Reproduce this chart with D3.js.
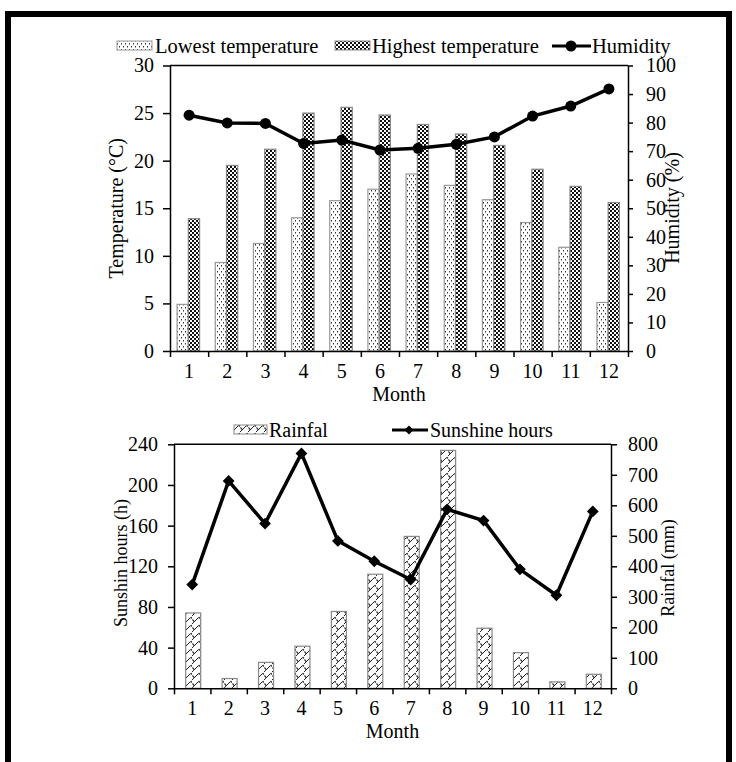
<!DOCTYPE html>
<html>
<head>
<meta charset="utf-8">
<script src="https://cdn.jsdelivr.net/npm/d3@7"></script>
<style>
  html, body { margin: 0; padding: 0; background: #fff; }
  svg { display: block; font-family: "Liberation Serif", "Times New Roman", serif; }
  .axis path, .axis line { stroke: #000; stroke-width: 1.5; }
  .axis text { font-size: 20px; fill: #000; font-family: "Liberation Serif", serif; }
</style>
</head>
<body>
<div id="chart"></div>
<script>
const months = ['1', '2', '3', '4', '5', '6', '7', '8', '9', '10', '11', '12'];
const lowTemp = [4.9, 9.3, 11.3, 14.0, 15.8, 17.0, 18.6, 17.4, 15.9, 13.5, 10.9, 5.1];
const highTemp = [13.9, 19.5, 21.2, 25.0, 25.6, 24.8, 23.8, 22.8, 21.6, 19.1, 17.3, 15.6];
const humidity = [82.6, 79.9, 79.7, 72.7, 73.9, 70.4, 71.0, 72.4, 75.0, 82.3, 85.8, 91.8];
const rainfall = [247, 32, 85, 138, 252, 374, 498, 780, 197, 117, 21, 46];
const sunshine = [102, 204, 162, 231, 145, 125, 107, 176, 165, 117, 91.5, 174];

const tempTicks = [0, 5, 10, 15, 20, 25, 30];
const humTicks = [0, 10, 20, 30, 40, 50, 60, 70, 80, 90, 100];
const sunTicks = [0, 40, 80, 120, 160, 200, 240];
const rainTicks = [0, 100, 200, 300, 400, 500, 600, 700, 800];

const W = 736, H = 762;
const svg = d3.select('#chart').append('svg').attr('width', W).attr('height', H);

// patterns
const defs = svg.append('defs');
const dots = defs.append('pattern').attr('id', 'dots')
  .attr('patternUnits', 'userSpaceOnUse').attr('width', 4).attr('height', 6);
dots.append('rect').attr('width', 4).attr('height', 6).attr('fill', '#fff');
dots.append('rect').attr('x', 1).attr('y', 1).attr('width', 1).attr('height', 1.5).attr('fill', '#333');
dots.append('rect').attr('x', 3).attr('y', 4).attr('width', 1).attr('height', 1.5).attr('fill', '#333');

const checker = defs.append('pattern').attr('id', 'checker')
  .attr('patternUnits', 'userSpaceOnUse').attr('width', 4).attr('height', 4);
checker.append('rect').attr('width', 4).attr('height', 4).attr('fill', '#fff');
checker.append('rect').attr('width', 2).attr('height', 2).attr('fill', '#111');
checker.append('rect').attr('x', 2).attr('y', 2).attr('width', 2).attr('height', 2).attr('fill', '#111');

const wave = defs.append('pattern').attr('id', 'wave')
  .attr('patternUnits', 'userSpaceOnUse').attr('width', 8).attr('height', 8);
wave.append('rect').attr('width', 8).attr('height', 8).attr('fill', '#fff');
wave.append('path').attr('d', 'M0,8 L6,2 Q8,0 8,3 M-2,2 L0,0 M0,4 Q2,3 2,6')
  .attr('stroke', '#222').attr('stroke-width', 1).attr('fill', 'none');

// outer frame
svg.append('path').attr('d', `M8,${H} V14 H729 V${H}`)
  .attr('fill', 'none').attr('stroke', '#000').attr('stroke-width', 6);

function xAxes(g, x, y0) {
  const edge = d3.scaleLinear().domain([0, months.length]).range(x.range());
  g.append('g').attr('class', 'axis').attr('transform', `translate(0,${y0})`)
    .call(d3.axisBottom(edge).tickValues(d3.range(months.length + 1)).tickFormat('').tickSize(6).tickSizeOuter(0));
  g.append('g').attr('class', 'axis').attr('transform', `translate(0,${y0})`)
    .call(d3.axisBottom(x).tickSize(0).tickPadding(13))
    .call(a => a.select('.domain').remove());
}

// ---------- top chart ----------
const t = { l: 170, r: 628, top: 65.5, bot: 351 };
const x1 = d3.scaleBand().domain(months).range([t.l, t.r]);
const xs = d3.scaleBand().domain(['low', 'high']).range([x1.bandwidth() / 2 - 12, x1.bandwidth() / 2 + 10.5]);
const yT = d3.scaleLinear().domain([0, 30]).range([t.bot, t.top]);
const yH = d3.scaleLinear().domain([0, 100]).range([t.bot, t.top]);
const topG = svg.append('g');

topG.selectAll('rect.low').data(lowTemp).join('rect').attr('class', 'low')
  .attr('x', (d, i) => x1(months[i]) + xs('low')).attr('width', xs.bandwidth())
  .attr('y', d => yT(d)).attr('height', d => yT(0) - yT(d))
  .attr('fill', 'url(#dots)').attr('stroke', '#999').attr('stroke-width', 1.2);
topG.selectAll('rect.high').data(highTemp).join('rect').attr('class', 'high')
  .attr('x', (d, i) => x1(months[i]) + xs('high')).attr('width', xs.bandwidth())
  .attr('y', d => yT(d)).attr('height', d => yT(0) - yT(d))
  .attr('fill', 'url(#checker)').attr('stroke', '#888').attr('stroke-width', 1.2);

topG.append('line').attr('x1', t.l).attr('x2', t.r).attr('y1', t.top).attr('y2', t.top)
  .attr('stroke', '#000').attr('stroke-width', 1.5);
xAxes(topG, x1, t.bot);
topG.append('g').attr('class', 'axis').attr('transform', `translate(${t.l},0)`)
  .call(d3.axisLeft(yT).tickValues(tempTicks).tickSize(7).tickPadding(9).tickSizeOuter(0));
topG.append('g').attr('class', 'axis').attr('transform', `translate(${t.r},0)`)
  .call(d3.axisRight(yH).tickValues(humTicks).tickSize(5).tickPadding(13).tickSizeOuter(0));

const humLine = d3.line().x((d, i) => x1(months[i]) + x1.bandwidth() / 2).y(d => yH(d));
topG.append('path').datum(humidity).attr('d', humLine)
  .attr('fill', 'none').attr('stroke', '#000').attr('stroke-width', 3.5);
topG.selectAll('circle').data(humidity).join('circle')
  .attr('cx', (d, i) => x1(months[i]) + x1.bandwidth() / 2).attr('cy', d => yH(d))
  .attr('r', 5.5).attr('fill', '#000');

topG.append('text').attr('transform', `translate(123,${(t.top + t.bot) / 2}) rotate(-90)`)
  .attr('text-anchor', 'middle').attr('font-size', 20).text('Temperature (°C)');
topG.append('text').attr('transform', `translate(679,208) rotate(-90)`)
  .attr('text-anchor', 'middle').attr('font-size', 20).text('Humidity (%)');
topG.append('text').attr('x', (t.l + t.r) / 2).attr('y', 401)
  .attr('text-anchor', 'middle').attr('font-size', 20).text('Month');

// top legend
const lg1 = topG.append('g').attr('font-size', 20.5);
lg1.append('rect').attr('x', 117).attr('y', 41).attr('width', 35).attr('height', 9)
  .attr('fill', 'url(#dots)').attr('stroke', '#999');
lg1.append('text').attr('x', 155).attr('y', 53).text('Lowest temperature');
lg1.append('rect').attr('x', 335).attr('y', 41).attr('width', 35).attr('height', 9)
  .attr('fill', 'url(#checker)').attr('stroke', '#888');
lg1.append('text').attr('x', 372).attr('y', 53).text('Highest temperature');
lg1.append('line').attr('x1', 552).attr('x2', 591).attr('y1', 46).attr('y2', 46)
  .attr('stroke', '#000').attr('stroke-width', 3);
lg1.append('circle').attr('cx', 571).attr('cy', 46).attr('r', 5.5).attr('fill', '#000');
lg1.append('text').attr('x', 592).attr('y', 53).text('Humidity');

// ---------- bottom chart ----------
const b = { l: 174, r: 611, top: 444.3, bot: 688.3 };
const x2 = d3.scaleBand().domain(months).range([b.l, b.r]);
const yS = d3.scaleLinear().domain([0, 240]).range([b.bot, b.top]);
const yR = d3.scaleLinear().domain([0, 800]).range([b.bot, b.top]);
const botG = svg.append('g');
const bw = 15;

botG.selectAll('rect.rain').data(rainfall).join('rect').attr('class', 'rain')
  .attr('x', (d, i) => x2(months[i]) + x2.bandwidth() / 2 - bw / 2 + 1).attr('width', bw)
  .attr('y', d => yR(d)).attr('height', d => yR(0) - yR(d))
  .attr('fill', 'url(#wave)').attr('stroke', '#888').attr('stroke-width', 1.2);

botG.append('line').attr('x1', b.l).attr('x2', b.r).attr('y1', b.top).attr('y2', b.top)
  .attr('stroke', '#000').attr('stroke-width', 1.5);
xAxes(botG, x2, b.bot);
botG.append('g').attr('class', 'axis').attr('transform', `translate(${b.l},0)`)
  .call(d3.axisLeft(yS).tickValues(sunTicks).tickSize(6).tickPadding(10).tickSizeOuter(0));
botG.append('g').attr('class', 'axis').attr('transform', `translate(${b.r},0)`)
  .call(d3.axisRight(yR).tickValues(rainTicks).tickSize(6).tickPadding(11).tickSizeOuter(0));

const sunLine = d3.line().x((d, i) => x2(months[i]) + x2.bandwidth() / 2).y(d => yS(d));
botG.append('path').datum(sunshine).attr('d', sunLine)
  .attr('fill', 'none').attr('stroke', '#000').attr('stroke-width', 3.5);
const diamond = d3.symbol(d3.symbolSquare, 70);
botG.selectAll('path.dm').data(sunshine).join('path').attr('class', 'dm')
  .attr('d', diamond)
  .attr('transform', (d, i) => `translate(${x2(months[i]) + x2.bandwidth() / 2},${yS(d)}) rotate(45)`)
  .attr('fill', '#000');

botG.append('text').attr('transform', `translate(127,563) rotate(-90)`)
  .attr('text-anchor', 'middle').attr('font-size', 18).text('Sunshin hours (h)');
botG.append('text').attr('transform', `translate(674,568) rotate(-90)`)
  .attr('text-anchor', 'middle').attr('font-size', 18).text('Rainfal (mm)');
botG.append('text').attr('x', (b.l + b.r) / 2).attr('y', 738)
  .attr('text-anchor', 'middle').attr('font-size', 20).text('Month');

// bottom legend
const lg2 = botG.append('g').attr('font-size', 20);
lg2.append('rect').attr('x', 234).attr('y', 425).attr('width', 33).attr('height', 9)
  .attr('fill', 'url(#wave)').attr('stroke', '#888');
lg2.append('text').attr('x', 269).attr('y', 437).text('Rainfal');
lg2.append('line').attr('x1', 392).attr('x2', 428).attr('y1', 430).attr('y2', 430)
  .attr('stroke', '#000').attr('stroke-width', 3);
lg2.append('path').attr('d', d3.symbol(d3.symbolSquare, 40))
  .attr('transform', 'translate(409,430) rotate(45)').attr('fill', '#000');
lg2.append('text').attr('x', 430).attr('y', 437).text('Sunshine hours');
</script>
</body>
</html>
